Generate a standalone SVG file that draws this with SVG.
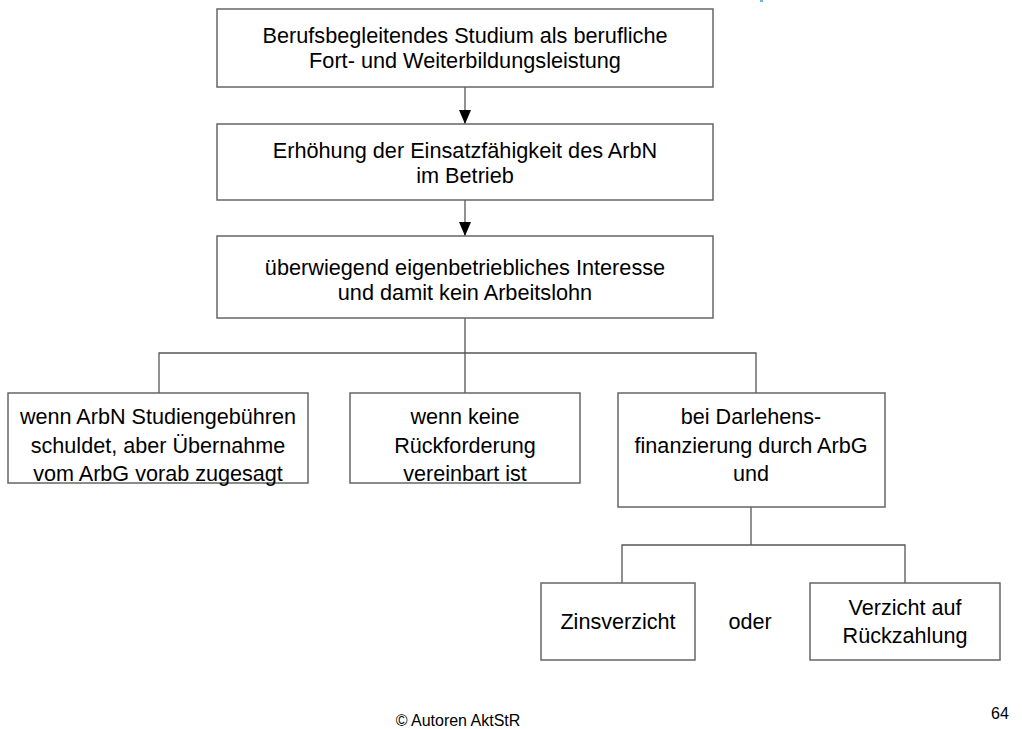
<svg xmlns="http://www.w3.org/2000/svg" width="1022" height="729" viewBox="0 0 1022 729">
<defs>
<style>
.box{fill:#fff;stroke:#666;stroke-width:1.5}
.ln{fill:none;stroke:#555;stroke-width:1.3}
text{font-family:"Liberation Sans",Arial,sans-serif;fill:#000;text-anchor:middle}
.t1{font-size:21.7px}
.t2{font-size:21.6px}
.ft{font-size:16px}
</style>
<marker id="ah" viewBox="0 0 12 14" refX="6" refY="14" markerWidth="12" markerHeight="14" markerUnits="userSpaceOnUse" orient="0">
<path d="M0,0 L12,0 L6,14 Z" fill="#000"/>
</marker>
</defs>
<rect x="760" y="0" width="3" height="2" fill="#6fb4e8"/>
<g id="connectors">
<line class="ln" x1="465" y1="87" x2="465" y2="124" marker-end="url(#ah)"/>
<line class="ln" x1="465" y1="200" x2="465" y2="236" marker-end="url(#ah)"/>
<path class="ln" d="M465,318 V353 M159,393 V353 H756 V393 M465,353 V393"/>
<path class="ln" d="M751,507 V545 M622,583 V545 H905 V583"/>
</g>
<g id="n1"><rect class="box" x="217" y="9" width="496" height="78"/>
<text class="t1" x="465" y="43">Berufsbegleitendes Studium als berufliche</text>
<text class="t1" x="465" y="68">Fort- und Weiterbildungsleistung</text></g>
<g id="n2"><rect class="box" x="217" y="124" width="496" height="76"/>
<text class="t1" x="465" y="158">Erhöhung der Einsatzfähigkeit des ArbN</text>
<text class="t1" x="465" y="183">im Betrieb</text></g>
<g id="n3"><rect class="box" x="217" y="236" width="496" height="82"/>
<text class="t1" x="465" y="275">überwiegend eigenbetriebliches Interesse</text>
<text class="t1" x="465" y="300">und damit kein Arbeitslohn</text></g>
<g id="n4"><rect class="box" x="8" y="393" width="300" height="90"/>
<text class="t2" x="158" y="424">wenn ArbN Studiengebühren</text>
<text class="t2" x="158" y="453">schuldet, aber Übernahme</text>
<text class="t2" x="158" y="481">vom ArbG vorab zugesagt</text></g>
<g id="n5"><rect class="box" x="350" y="393" width="230" height="90"/>
<text class="t2" x="465" y="424">wenn keine</text>
<text class="t2" x="465" y="453">Rückforderung</text>
<text class="t2" x="465" y="481">vereinbart ist</text></g>
<g id="n6"><rect class="box" x="618" y="393" width="267" height="114"/>
<text class="t2" x="751" y="424">bei Darlehens-</text>
<text class="t2" x="751" y="453">finanzierung durch ArbG</text>
<text class="t2" x="751" y="481">und</text></g>
<g id="n7"><rect class="box" x="541" y="583" width="154" height="77"/>
<text class="t2" x="618" y="629">Zinsverzicht</text></g>
<text class="t2" x="750" y="629">oder</text>
<g id="n8"><rect class="box" x="810" y="583" width="190" height="77"/>
<text class="t2" x="905" y="615">Verzicht auf</text>
<text class="t2" x="905" y="643">Rückzahlung</text></g>
<text class="ft" x="458" y="726">© Autoren AktStR</text>
<text class="ft" x="1000" y="719">64</text>
</svg>
